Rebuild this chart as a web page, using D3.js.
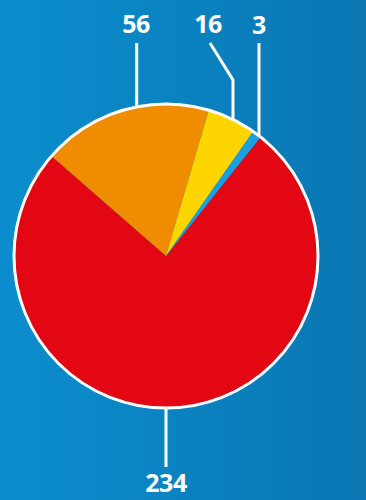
<!DOCTYPE html>
<html>
<head>
<meta charset="utf-8">
<script src="https://cdn.jsdelivr.net/npm/d3@7"></script>
<style>
  html, body { margin: 0; padding: 0; }
  body { width: 366px; height: 500px; overflow: hidden; }
  svg { display: block; }
</style>
</head>
<body>
<svg id="chart" width="366" height="500"></svg>
<script>
// Slice values, drawn clockwise starting with the largest
const categories = ["A", "B", "C", "D"];
const values = [234, 56, 16, 3];
const labels = ["234", "56", "16", "3"];
const colors = ["#e30613", "#f08c00", "#ffd500", "#1a9fe0"];

const W = 366, H = 500;
const cx = 166, cy = 256, R = 152;
const startDeg = 38.5;

const svg = d3.select("#chart");

// Background gradient
const defs = svg.append("defs");
const grad = defs.append("linearGradient").attr("id", "bg")
  .attr("x1", "0%").attr("y1", "0%").attr("x2", "100%").attr("y2", "0%");
grad.append("stop").attr("offset", "0%").attr("stop-color", "#0b8dcd");
grad.append("stop").attr("offset", "100%").attr("stop-color", "#0a77b3");
svg.append("rect").attr("width", W).attr("height", H).attr("fill", "url(#bg)");

const toRad = d => d * Math.PI / 180;
const pie = d3.pie().sort(null).value(d => d)
  .startAngle(toRad(startDeg)).endAngle(toRad(startDeg + 360));
const arcs = pie(values);
const arc = d3.arc().innerRadius(0).outerRadius(R);

const g = svg.append("g").attr("transform", `translate(${cx},${cy})`);
g.selectAll("path.slice").data(arcs).join("path")
  .attr("class", "slice")
  .attr("d", arc)
  .attr("fill", (d, i) => colors[i])
  .attr("stroke", "none");

// White outline around the whole pie
g.append("circle").attr("r", R).attr("fill", "none")
  .attr("stroke", "#fff").attr("stroke-width", 3);

// Leader lines: each ends on the rim at the given x
const rimY = x => cy - Math.sqrt(R * R - (x - cx) * (x - cx));
const leaders = [
  { pts: [[cx, cy + R], [cx, 467]], tx: cx, ty: 492 },
  { pts: [[136.7, 43], [136.7, rimY(136.7)]], tx: 136, ty: 33 },
  { pts: [[210, 43], [233, 80], [233, rimY(233)]], tx: 208, ty: 33 },
  { pts: [[259, 43], [259, rimY(259)]], tx: 259, ty: 34 }
];

const line = d3.line();
svg.selectAll("path.leader").data(leaders).join("path")
  .attr("class", "leader")
  .attr("d", d => line(d.pts))
  .attr("fill", "none")
  .attr("stroke", "#fff")
  .attr("stroke-width", 3);

svg.selectAll("text.lbl").data(leaders).join("text")
  .attr("class", "lbl")
  .attr("x", d => d.tx)
  .attr("y", d => d.ty)
  .attr("text-anchor", "middle")
  .attr("fill", "#fff")
  .attr("font-family", "'Open Sans', sans-serif")
  .attr("font-weight", 700)
  .attr("font-size", 25)
  .attr("letter-spacing", -0.5)
  .text((d, i) => labels[i]);
</script>
</body>
</html>
